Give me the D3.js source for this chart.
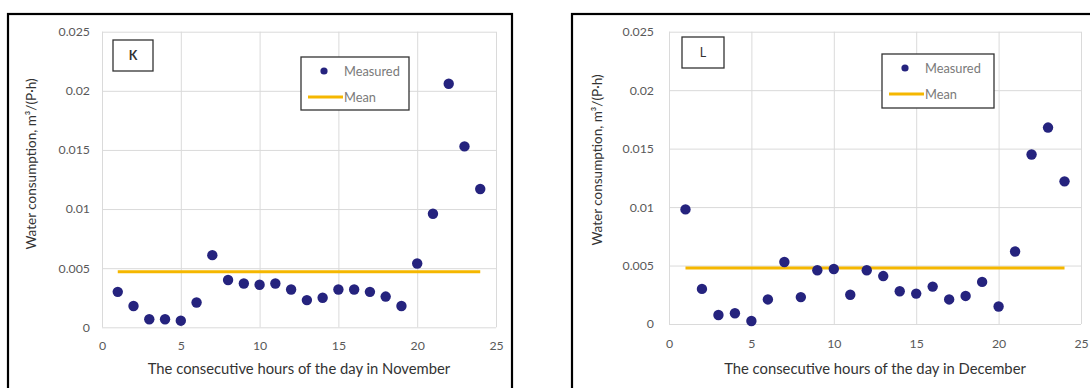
<!DOCTYPE html>
<html>
<head>
<meta charset="utf-8">
<script src="https://cdn.jsdelivr.net/npm/d3@7"></script>
<style>
  html, body { margin: 0; padding: 0; background: #ffffff; }
  svg { display: block; }
  text { font-family: Lato, "Open Sans", sans-serif; }
</style>
</head>
<body>
<svg id="chart" width="1090" height="388"></svg>
<script>
// Hour of the day (1..24)
const hours = [1, 2, 3, 4, 5, 6, 7, 8, 9, 10, 11, 12, 13, 14, 15, 16, 17, 18, 19, 20, 21, 22, 23, 24];

// Measured water consumption, m3 per person per hour
const novemberValues = [0.0030, 0.0018, 0.00068, 0.00068, 0.00056, 0.0021, 0.0061, 0.0040,
  0.0037, 0.0036, 0.0037, 0.0032, 0.0023, 0.0025, 0.0032, 0.0032,
  0.0030, 0.0026, 0.0018, 0.0054, 0.0096, 0.0206, 0.0153, 0.0117];
const decemberValues = [0.0098, 0.0030, 0.00077, 0.00092, 0.00026, 0.0021, 0.0053, 0.0023,
  0.0046, 0.0047, 0.0025, 0.0046, 0.0041, 0.0028, 0.0026, 0.0032,
  0.0021, 0.0024, 0.0036, 0.0015, 0.0062, 0.0145, 0.0168, 0.0122];

// Mean consumption for each month
const novemberMean = 0.0047;
const decemberMean = 0.0048;

// Axis ticks
const xTicks = [0, 5, 10, 15, 20, 25];
const xTickLabels = ["0", "5", "10", "15", "20", "25"];
const yTicks = [0, 0.005, 0.01, 0.015, 0.02, 0.025];
const yTickLabels = ["0", "0.005", "0.01", "0.015", "0.02", "0.025"];

const panelTags = ["K", "L"];
const xTitles = ["The consecutive hours of the day in November", "The consecutive hours of the day in December"];
const yTitle = "Water consumption, m\u00B3/(P\u00B7h)";
const legendLabels = ["Measured", "Mean"];

const markerColor = "#25237e";
const meanColor = "#f5b700";
const gridColor = "#dadada";
const tickColor = "#595959";

const svg = d3.select("#chart");

const panels = [
  {
    values: novemberValues, mean: novemberMean, tag: panelTags[0], xTitle: xTitles[0],
    frame: { x: 8, y: 14, w: 504, h: 420 },
    plot: { left: 102, right: 496, top: 31.7, bottom: 327.3 },
    yTickX: 90, yTitleX: 33, yTitleY: 164, xTickY: 346, xTitleY: 370,
    tagBox: { x: 113, y: 40, w: 40, h: 31 },
    legend: { x: 301, y: 57, w: 108, h: 53 }
  },
  {
    values: decemberValues, mean: decemberMean, tag: panelTags[1], xTitle: xTitles[1],
    frame: { x: 572, y: 14, w: 560, h: 420 },
    plot: { left: 669, right: 1081, top: 31.7, bottom: 324 },
    yTickX: 654, yTitleX: 599, yTitleY: 160, xTickY: 343.5, xTitleY: 370,
    tagBox: { x: 682, y: 37, w: 42, h: 31 },
    legend: { x: 882, y: 54, w: 112, h: 54 }
  }
];

panels.forEach(p => {
  const g = svg.append("g");

  // Outer frame of the panel
  g.append("rect")
    .attr("x", p.frame.x).attr("y", p.frame.y)
    .attr("width", p.frame.w).attr("height", p.frame.h)
    .attr("fill", "none").attr("stroke", "#000").attr("stroke-width", 2.2);

  const x = d3.scaleLinear().domain([0, 25]).range([p.plot.left, p.plot.right]);
  const y = d3.scaleLinear().domain([0, 0.025]).range([p.plot.bottom, p.plot.top]);
  const w = p.plot.right - p.plot.left;
  const h = p.plot.bottom - p.plot.top;

  // Vertical gridlines
  const xGrid = g.append("g")
    .attr("transform", `translate(0,${p.plot.bottom})`)
    .call(d3.axisBottom(x).tickValues(xTicks).tickSize(-h).tickFormat(""));
  xGrid.select(".domain").remove();
  xGrid.selectAll("line").attr("stroke", gridColor).attr("stroke-width", 1);

  // Horizontal gridlines
  const yGrid = g.append("g")
    .attr("transform", `translate(${p.plot.left},0)`)
    .call(d3.axisLeft(y).tickValues(yTicks).tickSize(-w).tickFormat(""));
  yGrid.select(".domain").remove();
  yGrid.selectAll("line").attr("stroke", gridColor).attr("stroke-width", 1);

  // Y tick labels
  const yAxis = g.append("g")
    .attr("transform", `translate(${p.yTickX},0)`)
    .call(d3.axisLeft(y).tickValues(yTicks).tickSize(0).tickPadding(0)
      .tickFormat((d, i) => yTickLabels[i]));
  yAxis.select(".domain").remove();
  yAxis.selectAll("text")
    .attr("fill", tickColor).style("font-size", "12.3px")
    .style("font-family", "Lato, sans-serif");

  // X tick labels
  const xAxis = g.append("g")
    .attr("transform", `translate(0,${p.xTickY})`)
    .call(d3.axisBottom(x).tickValues(xTicks).tickSize(0).tickPadding(0)
      .tickFormat((d, i) => xTickLabels[i]));
  xAxis.select(".domain").remove();
  xAxis.selectAll("text")
    .attr("dy", "0.35em")
    .attr("fill", tickColor).style("font-size", "12.3px")
    .style("font-family", "Lato, sans-serif");

  // Axis titles
  g.append("text")
    .attr("x", (p.plot.left + p.plot.right) / 2).attr("y", p.xTitleY)
    .attr("text-anchor", "middle").attr("dominant-baseline", "middle").attr("fill", "#333")
    .style("font-size", "14.8px")
    .text(p.xTitle);

  g.append("text")
    .attr("transform", `translate(${p.yTitleX},${p.yTitleY}) rotate(-90)`)
    .attr("text-anchor", "middle").attr("dominant-baseline", "middle").attr("fill", "#333")
    .style("font-size", "13.5px")
    .text(yTitle);

  // Mean line over the 24 hours
  g.append("line")
    .attr("x1", x(hours[0])).attr("x2", x(hours[hours.length - 1]))
    .attr("y1", y(p.mean)).attr("y2", y(p.mean))
    .attr("stroke", meanColor).attr("stroke-width", 3);

  // Measured points
  g.append("g").selectAll("circle")
    .data(hours.map((hr, i) => ({ hr, v: p.values[i] })))
    .join("circle")
    .attr("cx", d => x(d.hr)).attr("cy", d => y(d.v))
    .attr("r", 5.2).attr("fill", markerColor);

  // Panel tag box
  g.append("rect")
    .attr("x", p.tagBox.x).attr("y", p.tagBox.y)
    .attr("width", p.tagBox.w).attr("height", p.tagBox.h)
    .attr("fill", "#fff").attr("stroke", "#333").attr("stroke-width", 1.3);
  g.append("text")
    .attr("x", p.tagBox.x + p.tagBox.w / 2).attr("y", p.tagBox.y + p.tagBox.h / 2)
    .attr("text-anchor", "middle").attr("dominant-baseline", "central")
    .attr("fill", "#333").style("font-size", "12.5px")
    .style("font-weight", p.tag === "K" ? "bold" : "normal")
    .text(p.tag);

  // Legend
  const L = p.legend;
  g.append("rect")
    .attr("x", L.x).attr("y", L.y).attr("width", L.w).attr("height", L.h)
    .attr("fill", "#fff").attr("stroke", "#333").attr("stroke-width", 1.3);
  g.append("circle")
    .attr("cx", L.x + 23).attr("cy", L.y + 14).attr("r", 3.6).attr("fill", markerColor);
  g.append("line")
    .attr("x1", L.x + 7).attr("x2", L.x + 42)
    .attr("y1", L.y + 40).attr("y2", L.y + 40)
    .attr("stroke", meanColor).attr("stroke-width", 3);
  g.append("text")
    .attr("x", L.x + 43).attr("y", L.y + 14)
    .attr("dominant-baseline", "central").attr("fill", "#7a7a7a")
    .style("font-size", "12.8px").text(legendLabels[0]);
  g.append("text")
    .attr("x", L.x + 43).attr("y", L.y + 40)
    .attr("dominant-baseline", "central").attr("fill", "#7a7a7a")
    .style("font-size", "12.8px").text(legendLabels[1]);
});
</script>
</body>
</html>
